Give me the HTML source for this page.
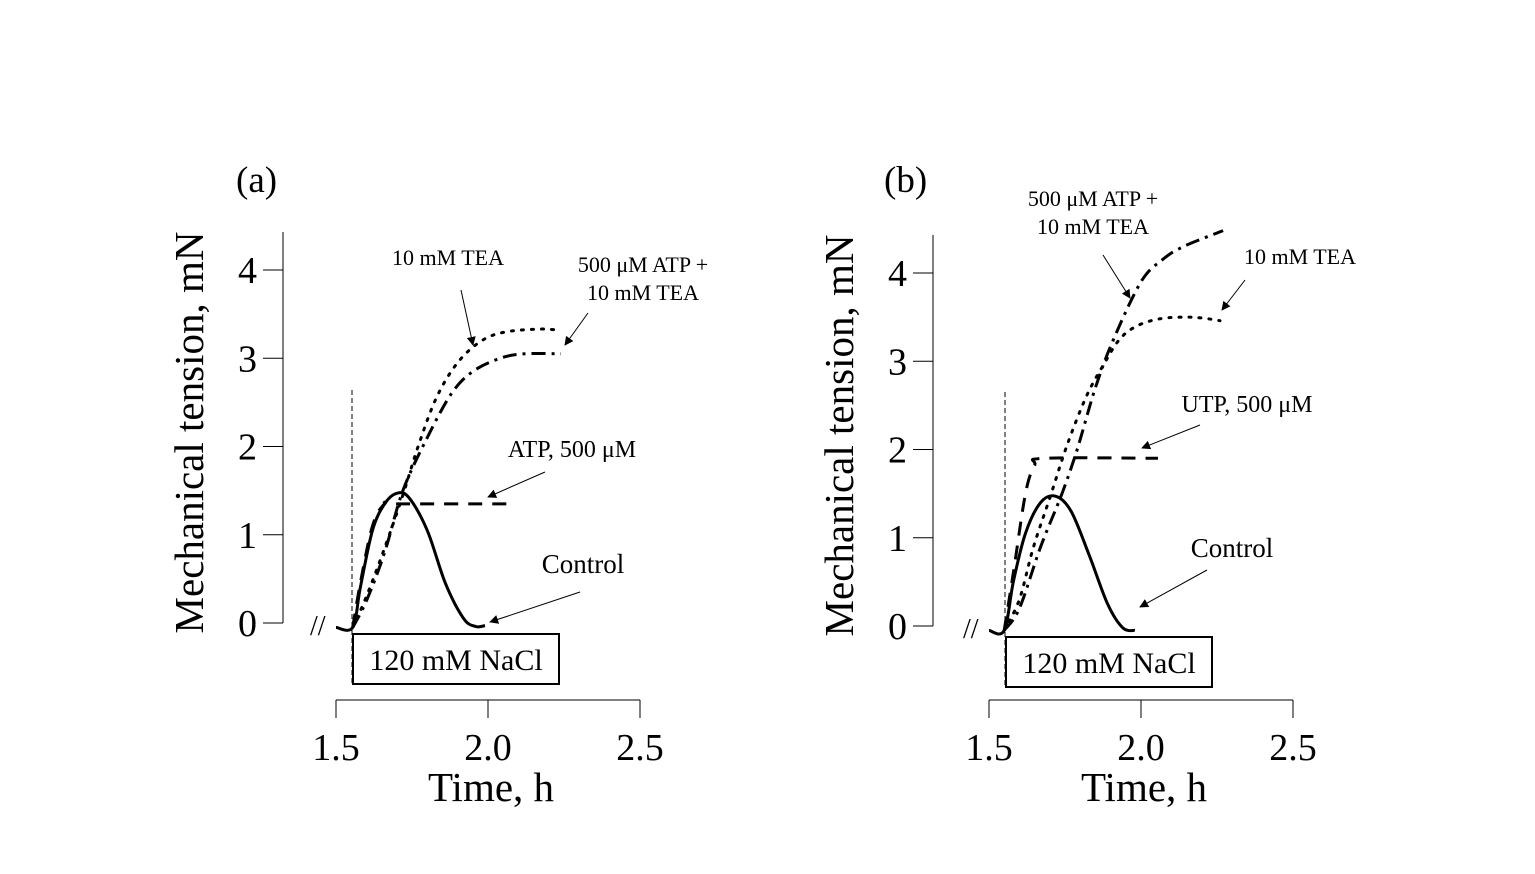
<!DOCTYPE html>
<html><head><meta charset="utf-8">
<style>
html,body{margin:0;padding:0;background:#fff;}
svg{display:block;font-family:"Liberation Serif","DejaVu Serif",serif;}
</style></head>
<body>
<svg id="chart" width="1535" height="874" viewBox="0 0 1535 874">
<defs>
<marker id="ah" viewBox="0 0 10 10" refX="9" refY="5" markerWidth="9" markerHeight="9" orient="auto-start-reverse" markerUnits="userSpaceOnUse">
<path d="M0,0 L10,5 L0,10 z" fill="#000"/></marker>
</defs>
<g id="pa"></g>
<g id="pb"></g>
</svg>
<script>
// ---- data (hours, mN) ----
const yTicks = [0,1,2,3,4];
const xTicks = [1.5,2.0,2.5];
const xTickLabels = ["1.5","2.0","2.5"];
const aControlT = [1.5,1.555,1.58,1.62,1.66,1.70,1.74,1.80,1.86,1.92,1.96,1.99];
const aControlV = [-0.05,-0.05,0.4,1.05,1.35,1.47,1.42,1.05,0.45,0.05,-0.04,-0.03];
const aAtpT = [1.555,1.58,1.62,1.66,1.70,2.08];
const aAtpV = [-0.05,0.45,1.1,1.35,1.35,1.35];
const aTeaT = [1.555,1.6,1.66,1.72,1.77,1.83,1.90,1.98,2.06,2.17,2.23];
const aTeaV = [-0.05,0.3,0.85,1.45,2.0,2.55,2.95,3.2,3.3,3.33,3.32];
const aAtpTeaT = [1.555,1.6,1.66,1.72,1.80,1.88,1.95,2.04,2.12,2.24];
const aAtpTeaV = [-0.05,0.25,0.8,1.5,2.1,2.6,2.85,3.0,3.05,3.05];
const bControlT = [1.5,1.55,1.58,1.62,1.67,1.72,1.77,1.83,1.89,1.94,1.98];
const bControlV = [-0.05,-0.05,0.5,1.05,1.4,1.47,1.3,0.8,0.25,-0.02,-0.05];
const bUtpT = [1.55,1.58,1.62,1.65,1.68,2.056];
const bUtpV = [-0.05,0.6,1.5,1.82,1.9,1.9];
const bAtpTeaT = [1.55,1.6,1.67,1.74,1.79,1.85,1.91,2.0,2.07,2.14,2.27];
const bAtpTeaV = [-0.05,0.2,0.9,1.5,2.0,2.7,3.25,3.9,4.15,4.3,4.48];
const bTeaT = [1.55,1.6,1.645,1.7,1.757,1.82,1.875,1.93,1.987,2.06,2.14,2.2,2.26];
const bTeaV = [-0.05,0.3,0.88,1.45,2.05,2.6,2.95,3.25,3.4,3.48,3.5,3.49,3.46];

const NS="http://www.w3.org/2000/svg";
function mk(parent,tag,attrs,text){const e=document.createElementNS(NS,tag);for(const k in attrs)e.setAttribute(k,attrs[k]);if(text!==undefined)e.textContent=text;parent.appendChild(e);return e;}

function smooth(pts){
  let d='M'+pts[0][0].toFixed(1)+','+pts[0][1].toFixed(1);
  for(let i=0;i<pts.length-1;i++){
    const p0=pts[i-1]||pts[i],p1=pts[i],p2=pts[i+1],p3=pts[i+2]||p2;
    const c1=[p1[0]+(p2[0]-p0[0])/6,p1[1]+(p2[1]-p0[1])/6];
    const c2=[p2[0]-(p3[0]-p1[0])/6,p2[1]-(p3[1]-p1[1])/6];
    d+=' C'+c1[0].toFixed(1)+','+c1[1].toFixed(1)+' '+c2[0].toFixed(1)+','+c2[1].toFixed(1)+' '+p2[0].toFixed(1)+','+p2[1].toFixed(1);
  }
  return d;
}

function panel(g,cfg){
  const X=t=>cfg.x0+(t-1.5)*(cfg.x1-cfg.x0)/1.0;
  const Y=v=>cfg.y0-v*(cfg.y0-cfg.y4)/4;
  let e=mk(g,'line',{x1:cfg.ax,y1:cfg.axTop,x2:cfg.ax,y2:Y(0),stroke:'#000','stroke-width':1});
  
  
  yTicks.forEach(v=>{
    let t=mk(g,'line',{x1:cfg.ax-20,y1:Y(v),x2:cfg.ax,y2:Y(v),stroke:'#000','stroke-width':1});
    
    
    let l=mk(g,'text',{x:cfg.ax-26,y:Y(v)+13,'font-size':38,'text-anchor':'end'},String(v));
    
    
  });
  e=mk(g,'line',{x1:X(1.5),y1:cfg.xay,x2:X(2.5),y2:cfg.xay,stroke:'#000','stroke-width':1});
  
  
  xTicks.forEach((v,i)=>{
    let t=mk(g,'line',{x1:X(v),y1:cfg.xay,x2:X(v),y2:cfg.xay+18,stroke:'#000','stroke-width':1});
    
    
    let l=mk(g,'text',{x:X(v),y:cfg.xay+60,'font-size':38,'text-anchor':'middle'},xTickLabels[i]);
    
    
  });
  e=mk(g,'text',{x:(X(1.5)+X(2.5))/2+3,y:cfg.xay+101,'font-size':41,'text-anchor':'middle'},'Time, h');
  
  
  const cy=(Y(0)+cfg.axTop)/2+5;
  e=mk(g,'text',{x:0,y:0,'font-size':41,'text-anchor':'middle',transform:`translate(${cfg.ax-80},${cy}) rotate(-90)`},'Mechanical tension, mN');
  
  
  e=mk(g,'text',{x:cfg.labX,y:192,'font-size':37},cfg.label);
  
  
  e=mk(g,'line',{x1:X(1.5)+16,y1:cfg.vTop,x2:X(1.5)+16,y2:cfg.boxY+50,stroke:'#000','stroke-width':1,'stroke-dasharray':'5,3'});
  
  
  e=mk(g,'rect',{x:X(1.5)+17,y:cfg.boxY,width:206,height:50,fill:'#fff',stroke:'#000','stroke-width':2});
  
  
  e=mk(g,'text',{x:X(1.5)+120,y:cfg.boxY+36,'font-size':30,'text-anchor':'middle'},'120 mM NaCl');
  
  
  e=mk(g,'text',{x:X(1.5)-26,y:Y(0)+12,'font-size':28},'//');
  
  
  cfg.series.forEach(s=>{
    const pts=s.t.map((t,i)=>[X(t),Y(s.v[i])]);
    const p=mk(g,'path',{d:smooth(pts),fill:'none',stroke:'#000','stroke-width':s.w,'stroke-dasharray':s.dash,'stroke-linecap':s.cap||'butt','stroke-linejoin':'round'});
    
    
  });
  cfg.notes.forEach(n=>{
    n.lines.forEach((ln,i)=>{
      const t=mk(g,'text',{x:n.x,y:n.y+i*28,'font-size':n.fs,'text-anchor':'middle'},ln);
      
      
    });
    const a=mk(g,'line',{x1:n.a[0],y1:n.a[1],x2:n.a[2],y2:n.a[3],stroke:'#000','stroke-width':1,'marker-end':'url(#ah)'});
    
    
  });
}

panel(document.getElementById('pa'),{
  x0:336,x1:640,y0:623,y4:270,ax:283,axTop:232,xay:700,boxY:634,vTop:390,labX:236,label:'(a)',
  series:[
    {name:'control-line',t:aControlT,v:aControlV,w:3,dash:'none'},
    {name:'atp-line',t:aAtpT,v:aAtpV,w:3,dash:'14,10'},
    {name:'tea-line',t:aTeaT,v:aTeaV,w:3,dash:'2,8',cap:'round'},
    {name:'atp-tea-line',t:aAtpTeaT,v:aAtpTeaV,w:3,dash:'14,6,3,6'}
  ],
  notes:[
    {name:'tea',lines:['10 mM TEA'],x:448,y:265,fs:22,a:[461,290,473,345]},
    {name:'atp-tea',lines:['500 μM ATP +','10 mM TEA'],x:643,y:272,fs:22,a:[588,313,565,345]},
    {name:'atp',lines:['ATP, 500 μM'],x:572,y:457,fs:24,a:[545,472,488,497]},
    {name:'control',lines:['Control'],x:583,y:573,fs:27,a:[580,592,490,622]}
  ]
});
panel(document.getElementById('pb'),{
  x0:989,x1:1293,y0:626,y4:273,ax:933,axTop:235,xay:700,boxY:637,vTop:392,labX:884,label:'(b)',
  series:[
    {name:'control-line',t:bControlT,v:bControlV,w:3,dash:'none'},
    {name:'utp-line',t:bUtpT,v:bUtpV,w:3,dash:'14,10'},
    {name:'tea-line',t:bTeaT,v:bTeaV,w:3,dash:'2,8',cap:'round'},
    {name:'atp-tea-line',t:bAtpTeaT,v:bAtpTeaV,w:3,dash:'14,6,3,6'}
  ],
  notes:[
    {name:'atp-tea',lines:['500 μM ATP +','10 mM TEA'],x:1093,y:206,fs:22,a:[1103,255,1130,298]},
    {name:'tea',lines:['10 mM TEA'],x:1300,y:264,fs:22,a:[1245,280,1222,310]},
    {name:'utp',lines:['UTP, 500 μM'],x:1247,y:412,fs:24,a:[1200,425,1142,448]},
    {name:'control',lines:['Control'],x:1232,y:557,fs:27,a:[1207,570,1140,607]}
  ]
});
</script>
</body></html>
